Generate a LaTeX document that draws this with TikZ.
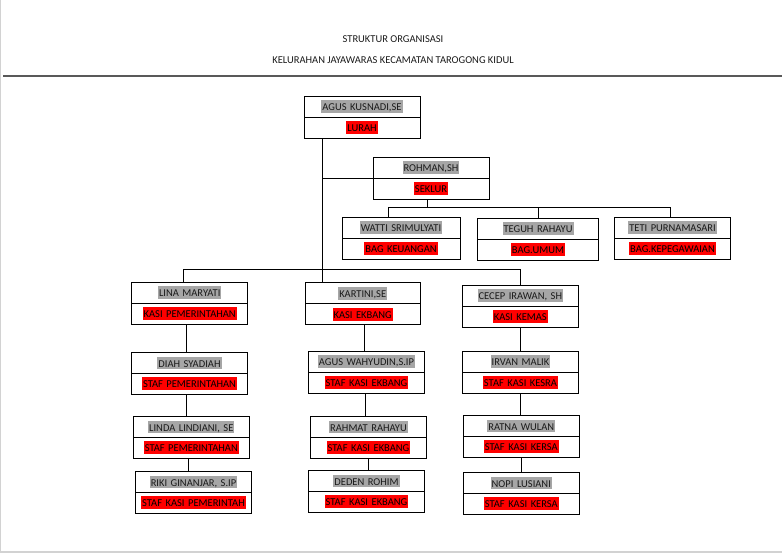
\documentclass[tikz,border=0pt]{standalone}
\usepackage{fontspec}
\setmainfont{Carlito}
\usetikzlibrary{shapes.multipart}
\definecolor{abu}{HTML}{A6A6A6}
\definecolor{merah}{HTML}{FF0000}
\definecolor{tinta}{HTML}{1A1A1A}
\setlength{\fboxsep}{1pt}
\newcommand{\nama}[1]{\colorbox{abu}{\rule[-1.3pt]{0pt}{10.8pt}#1}}
\newcommand{\jabatan}[1]{\colorbox{merah}{\rule[-1.3pt]{0pt}{10.8pt}#1}}

\begin{document}
\begin{tikzpicture}[
      x=1pt, y=-1pt,
      every node/.style={font=\fontsize{10.5}{11}\selectfont, text=tinta},
      kotak/.style={rectangle split, rectangle split parts=2, draw, line width=0.9pt,
        anchor=north, text width=112pt, align=center, inner xsep=2pt, inner ysep=3.6pt},
      garis/.style={line width=0.9pt}
    ]
    \useasboundingbox (0,0) rectangle (782,553);
    \draw[gray!35, line width=1.3pt] (0.65,0) -- (0.65,553);
    \draw[gray!35, line width=2pt] (0,551.5) -- (782,551.5);

    % Judul
    \node (judul) at (393,39.5) {STRUKTUR ORGANISASI};
    \node (subjudul) at (393,60.5) {KELURAHAN JAYAWARAS KECAMATAN TAROGONG KIDUL};
    \draw[black!65, line width=1.8pt] (3,75.7) -- (782,75.7);

    % Pimpinan
    \node[kotak] (lurah) at (362,96) {\nama{AGUS KUSNADI,SE}\nodepart{two}\jabatan{LURAH}};
    \node[kotak] (seklur) at (431,157) {\nama{ROHMAN,SH}\nodepart{two}\jabatan{SEKLUR}};

    % Bagian
    \node[kotak, text width=114pt] (keuangan) at (401,217) {\nama{WATTI SRIMULYATI}\nodepart{two}\jabatan{BAG KEUANGAN}};
    \node[kotak, text width=117pt] (umum) at (538,218) {\nama{TEGUH RAHAYU}\nodepart{two}\jabatan{BAG.UMUM}};
    \node[kotak] (kepeg) at (672.5,217) {\nama{TETI PURNAMASARI}\nodepart{two}\jabatan{BAG.KEPEGAWAIAN}};

    % Kasi
    \node[kotak] (pem) at (189.7,282) {\nama{LINA MARYATI}\nodepart{two}\jabatan{KASI PEMERINTAHAN}};
    \node[kotak, text width=111pt] (ekbang) at (362.7,282.5) {\nama{KARTINI,SE}\nodepart{two}\jabatan{KASI EKBANG}};
    \node[kotak] (kemas) at (520.3,285) {\nama{CECEP IRAWAN, SH}\nodepart{two}\jabatan{KASI KEMAS}};

    % Staf
    \node[kotak] (diah) at (189.5,352) {\nama{DIAH SYADIAH}\nodepart{two}\jabatan{STAF PEMERINTAHAN}};
    \node[kotak] (linda) at (191.3,416) {\nama{LINDA LINDIANI, SE}\nodepart{two}\jabatan{STAF PEMERINTAHAN}};
    \node[kotak] (riki) at (193.5,471) {\nama{RIKI GINANJAR, S.IP}\nodepart{two}\jabatan{STAF KASI PEMERINTAH}};
    \node[kotak] (agusw) at (366.5,351) {\nama{AGUS WAHYUDIN,S.IP}\nodepart{two}\jabatan{STAF KASI EKBANG}};
    \node[kotak] (rahmat) at (368.5,416) {\nama{RAHMAT RAHAYU}\nodepart{two}\jabatan{STAF KASI EKBANG}};
    \node[kotak] (deden) at (366.5,470) {\nama{DEDEN ROHIM}\nodepart{two}\jabatan{STAF KASI EKBANG}};
    \node[kotak] (irvan) at (520.5,351) {\nama{IRVAN MALIK}\nodepart{two}\jabatan{STAF KASI KESRA}};
    \node[kotak] (ratna) at (521.3,415) {\nama{RATNA WULAN}\nodepart{two}\jabatan{STAF KASI KERSA}};
    \node[kotak] (nopi) at (521.3,472) {\nama{NOPI LUSIANI}\nodepart{two}\jabatan{STAF KASI KERSA}};

    % Garis
    \coordinate (poros) at (322.5,269);
    \coordinate (bar1) at (0,207.5);
    \draw[garis] (lurah.south -| poros) -- (ekbang.north -| poros);
    \draw[garis] (seklur.text split west) -- (seklur.text split west -| poros);
    \draw[garis] ([xshift=-4pt]seklur.south) -- ([xshift=-4pt]seklur.south |- bar1);
    \draw[garis] ([xshift=-13pt]keuangan.north) |- ([xshift=-2pt]kepeg.north |- bar1) -- ([xshift=-2pt]kepeg.north);
    \draw[garis] (umum.north) -- (umum.north |- bar1);
    \draw[garis] ([xshift=-6pt]pem.north) |- (kemas.north |- poros) -- (kemas.north);

    \draw[garis] ([xshift=-3pt]pem.south) -- ([xshift=-3pt]pem.south |- diah.north);
    \draw[garis] ([xshift=-3pt]diah.south) -- ([xshift=-3pt]diah.south |- linda.north);
    \draw[garis] ([xshift=-3pt]linda.south) -- ([xshift=-3pt]linda.south |- riki.north);
    \draw[garis] ([xshift=1.6pt]ekbang.south) -- ([xshift=1.6pt]ekbang.south |- agusw.north);
    \draw[garis] ([xshift=-1.2pt]agusw.south) -- ([xshift=-1.2pt]agusw.south |- rahmat.north);
    \draw[garis] (rahmat.south) -- (rahmat.south |- deden.north);
    \draw[garis] (kemas.south) -- (kemas.south |- irvan.north);
    \draw[garis] (irvan.south) -- (irvan.south |- ratna.north);
    \draw[garis] (ratna.south) -- (ratna.south |- nopi.north);

  \end{tikzpicture}
\end{document}
